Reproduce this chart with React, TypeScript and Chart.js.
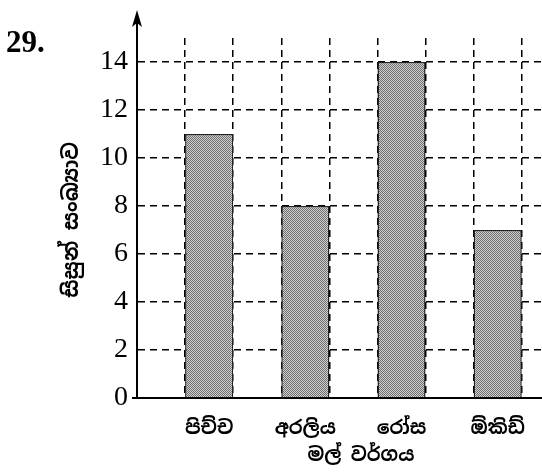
import React, { useEffect, useRef } from "react";
import { Chart, registerables } from "chart.js";

Chart.register(...registerables);

const questionNumber = "29.";
const categories = ["පිච්ච", "අරලිය", "රෝස", "ඕකිඩ්"];
const studentCounts = [11, 8, 14, 7];
const yTickValues = [0, 2, 4, 6, 8, 10, 12, 14];
const xTitle = "මල් වර්ගය";
const yTitle = "සිසුන් සංඛ්‍යාව";

const SERIF = '"Liberation Serif", "Times New Roman", serif';
const SINHALA = '"Noto Sans Sinhala", "Iskoola Pota", "Noto Sans", sans-serif';

function makePattern(): CanvasPattern | string {
  const c = document.createElement("canvas");
  c.width = 4;
  c.height = 4;
  const g = c.getContext("2d");
  if (!g) return "#a0a0a0";
  const bayer = [
    [0, 8, 2, 10],
    [12, 4, 14, 6],
    [3, 11, 1, 9],
    [15, 7, 13, 5],
  ];
  for (let y = 0; y < 4; y++) {
    for (let x = 0; x < 4; x++) {
      const dark = bayer[y][x] < 8;
      g.fillStyle = dark ? "#6e6e6e" : "#d0d0d0";
      g.fillRect(x, y, 1, 1);
    }
  }
  const p = g.createPattern(c, "repeat");
  return p || "#a0a0a0";
}

const extrasPlugin = {
  id: "extras",
  afterDraw(chart: any) {
    const ctx = chart.ctx;
    const area = chart.chartArea;
    ctx.save();
    ctx.strokeStyle = "#000";
    ctx.fillStyle = "#000";
    ctx.lineWidth = 2;
    ctx.beginPath();
    ctx.moveTo(area.left, area.top);
    ctx.lineTo(area.left, 20);
    ctx.stroke();
    ctx.beginPath();
    ctx.moveTo(area.left, 10);
    ctx.lineTo(area.left - 5, 27);
    ctx.lineTo(area.left, 23);
    ctx.lineTo(area.left + 5, 27);
    ctx.closePath();
    ctx.fill();
    ctx.beginPath();
    ctx.moveTo(area.left - 5, area.bottom);
    ctx.lineTo(area.left, area.bottom);
    ctx.stroke();
    ctx.font = `bold 31px ${SERIF}`;
    ctx.textAlign = "left";
    ctx.textBaseline = "alphabetic";
    ctx.fillText(questionNumber, 6, 52);
    ctx.font = `bold 19px ${SINHALA}`;
    ctx.textAlign = "center";
    ctx.textBaseline = "middle";
    ctx.fillText(xTitle, 361, 456);
    ctx.font = `bold 21px ${SINHALA}`;
    ctx.translate(72, 220);
    ctx.rotate(-Math.PI / 2);
    ctx.fillText(yTitle, 0, 0);
    ctx.restore();
  },
};

export default function App() {
  const ref = useRef<HTMLCanvasElement | null>(null);

  useEffect(() => {
    document.body.style.margin = "0";
    if (!ref.current) return;
    const data = studentCounts.map((v, i) => ({ x: 2 * i + 1.5, y: v }));
    const chart = new Chart(ref.current, {
      type: "bar",
      data: {
        datasets: [
          {
            data,
            backgroundColor: makePattern() as any,
            borderColor: "#222",
            borderWidth: 1.5,
            barPercentage: 0.5,
            categoryPercentage: 1,
          },
        ],
      },
      options: {
        animation: false,
        responsive: false,
        maintainAspectRatio: false,
        layout: { padding: { left: 0, right: 1, top: 38, bottom: 0 } },
        plugins: { legend: { display: false }, tooltip: { enabled: false } },
        scales: {
          x: {
            type: "linear",
            position: "bottom",
            offset: false,
            min: 0,
            max: 8.4,
            afterBuildTicks: (s: any) => {
              s.ticks = categories.map((_, i) => ({ value: 2 * i + 1.5 }));
            },
            afterFit: (s: any) => {
              s.height = 75;
            },
            ticks: {
              color: "#000",
              padding: 11,
              font: { family: SINHALA, size: 19, weight: "bold" },
              callback: (v: any) => categories[Math.round((Number(v) - 1.5) / 2)] ?? "",
              maxRotation: 0,
              autoSkip: false,
            },
            grid: { display: false, offset: false },
            border: { display: true, color: "#000", width: 2 },
          },
          xGrid: {
            type: "linear",
            position: "top",
            offset: false,
            min: 0,
            max: 8.4,
            afterBuildTicks: (s: any) => {
              s.ticks = [1, 2, 3, 4, 5, 6, 7, 8].map((v) => ({ value: v }));
            },
            afterFit: (s: any) => {
              s.height = 0;
            },
            ticks: { display: false },
            grid: {
              display: true,
              offset: false,
              color: "#000",
              lineWidth: 1.5,
              drawTicks: false,
            },
            border: { display: false, dash: [7, 5] } as any,
          },
          y: {
            type: "linear",
            min: 0,
            max: 15,
            afterBuildTicks: (s: any) => {
              s.ticks = yTickValues.map((v) => ({ value: v }));
            },
            afterFit: (s: any) => {
              s.width = 137;
            },
            ticks: {
              color: "#000",
              padding: 9,
              font: { family: SERIF, size: 28 },
            },
            grid: {
              display: true,
              color: (c: any) => (c.tick && c.tick.value === 0 ? "rgba(0,0,0,0)" : "#000"),
              lineWidth: 1.5,
              drawTicks: false,
            },
            border: { display: true, color: "#000", width: 2, dash: [7, 5] } as any,
          },
        },
      } as any,
      plugins: [extrasPlugin],
    });
    return () => chart.destroy();
  }, []);

  return (
    <div style={{ width: 542, height: 473 }}>
      <canvas ref={ref} width={542} height={473} style={{ display: "block" }} />
    </div>
  );
}
